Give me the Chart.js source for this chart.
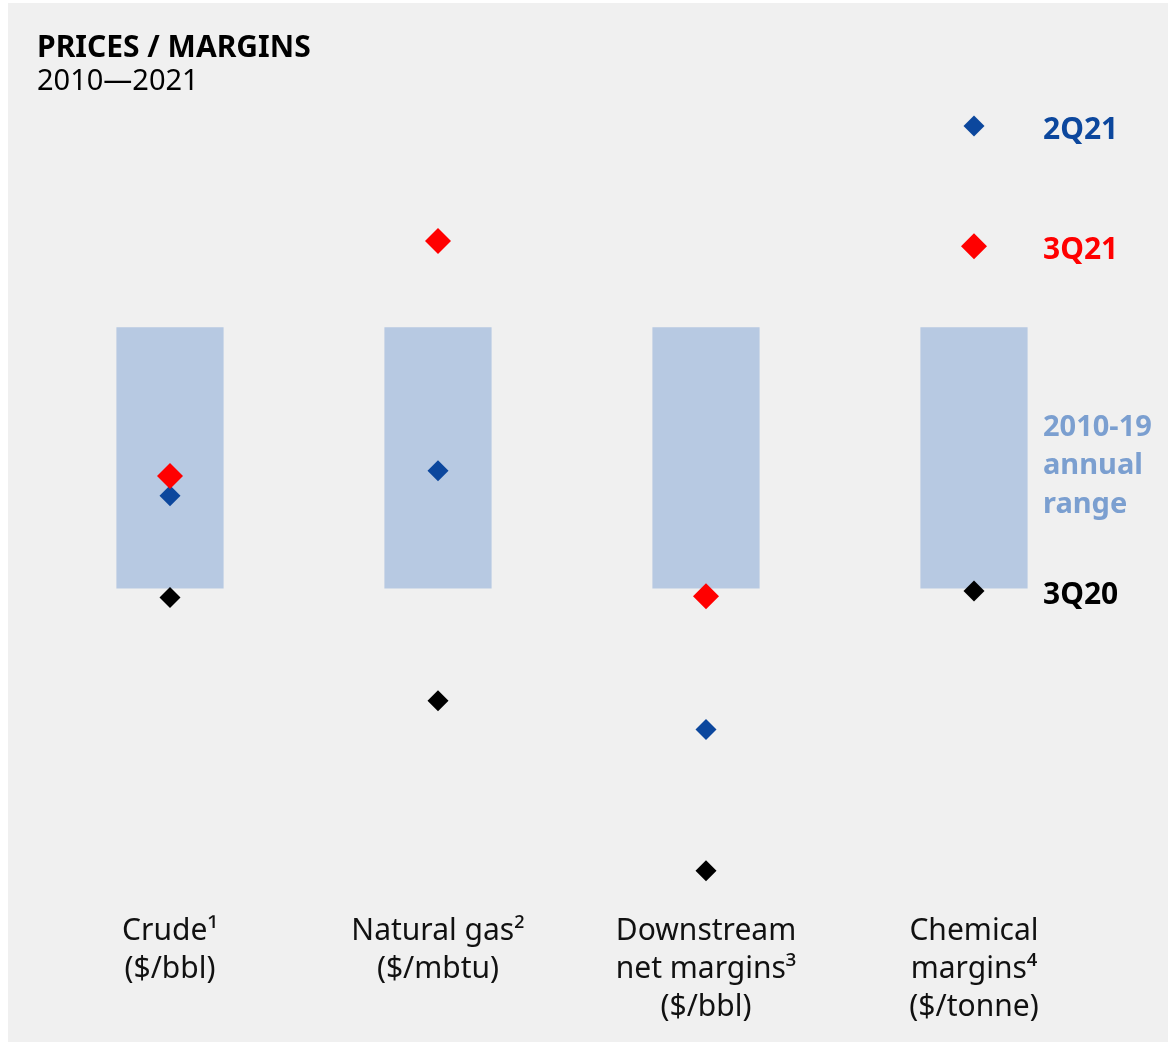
<!DOCTYPE html>
<html>
<head>
<meta charset="utf-8">
<script src="https://cdn.jsdelivr.net/npm/chart.js@4/dist/chart.umd.min.js"></script>
<style>
  body { margin: 0; background: #ffffff; }
  .panel { position: absolute; left: 8px; top: 3px; width: 1160px; height: 1039px; background: #f0f0f0; }
  .title { position: absolute; left: 29px; top: 26px; font-family: "Noto Sans", sans-serif; color: #000; line-height: 33px; }
  .title b { font-size: 30px; font-weight: 700; display: block; }
  .title span { font-size: 29px; display: block; }
  canvas { position: absolute; left: 0; top: 0; }
</style>
</head>
<body>
<div class="panel">
  <canvas id="chartContainer" width="1160" height="1039"></canvas>
  <div class="title"><b>PRICES / MARGINS</b><span>2010—2021</span></div>
</div>
<script>
// categories, values are placed relative to the 2010-19 annual range (low = 0, high = 1)
var categories = [
    ['Crude¹', '($/bbl)'],
    ['Natural gas²', '($/mbtu)'],
    ['Downstream', 'net margins³', '($/bbl)'],
    ['Chemical', 'margins⁴', '($/tonne)']
];
var range_low = [0, 0, 0, 0];
var range_high = [1, 1, 1, 1];
var data_3q21 = [0.43, 1.33, -0.03, 1.31];
var data_2q21 = [0.355, 0.45, -0.54, 1.77];
var data_3q20 = [-0.035, -0.43, -1.08, -0.01];
var range_label = ['2010-19', 'annual', 'range'];

var blue = '#0c479d';
var red = '#ff0000';
var black = '#000000';
var range_color = '#b7c9e2';
var range_text = '#7b9fd0';

var fontFamily = '"Noto Sans", sans-serif';

// labels at the right of the last column, one per series
var sideLabels = {
    id: 'sideLabels',
    afterDatasetsDraw: function(chart) {
        var ctx = chart.ctx;
        var last = categories.length - 1;
        var x = chart.scales.x.getPixelForValue(last) + 69;
        var y = chart.scales.y;
        ctx.save();
        ctx.font = 'bold 30px ' + fontFamily;
        ctx.textAlign = 'left';
        ctx.textBaseline = 'middle';
        var items = [
            ['2Q21', data_2q21[last], blue],
            ['3Q21', data_3q21[last], red],
            ['3Q20', data_3q20[last], black]
        ];
        items.forEach(function(it) {
            ctx.fillStyle = it[2];
            ctx.fillText(it[0], x, y.getPixelForValue(it[1]) + 4);
        });
        var mid = y.getPixelForValue((range_low[last] + range_high[last]) / 2) + 8;
        ctx.font = 'bold 29px ' + fontFamily;
        ctx.fillStyle = range_text;
        range_label.forEach(function(line, i) {
            ctx.fillText(line, x, mid + (i - 1) * 38.5);
        });
        ctx.restore();
    }
};

function pointSet(label, data, color, radius, order) {
    return {
        type: 'line',
        label: label,
        data: data,
        showLine: false,
        pointStyle: 'rectRot',
        pointRadius: radius,
        pointHoverRadius: radius,
        pointBackgroundColor: color,
        pointBorderWidth: 0,
        borderColor: color,
        order: order
    };
}

var cash_ctx = document.getElementById('chartContainer').getContext('2d');
var cfg = {
    type: 'bar',
    data: {
        labels: categories,
        datasets: [{
            label: '2010-19 annual range',
            data: range_low.map(function(lo, i) { return [lo, range_high[i]]; }),
            backgroundColor: range_color,
            borderWidth: 0,
            barPercentage: 0.4,
            categoryPercentage: 1,
            order: 4
        },
        pointSet('3Q20', data_3q20, black, 10.5, 3),
        pointSet('2Q21', data_2q21, blue, 10.5, 2),
        pointSet('3Q21', data_3q21, red, 13, 1)]
    },
    options: {
        responsive: false,
        animation: false,
        layout: {
            padding: { left: 28, right: 60, top: 89, bottom: 6 }
        },
        plugins: {
            legend: { display: false },
            tooltip: { enabled: false }
        },
        scales: {
            x: {
                offset: true,
                grid: { display: false, drawTicks: false },
                border: { display: false },
                ticks: {
                    color: '#111111',
                    maxRotation: 0,
                    autoSkip: false,
                    padding: 10,
                    font: { family: fontFamily, size: 30, lineHeight: 1.2667 }
                }
            },
            y: {
                display: false,
                min: -1.2,
                max: 1.9
            }
        }
    },
    plugins: [sideLabels]
};
var cash_balance_chart = new Chart(cash_ctx, cfg);
</script>
</body>
</html>
